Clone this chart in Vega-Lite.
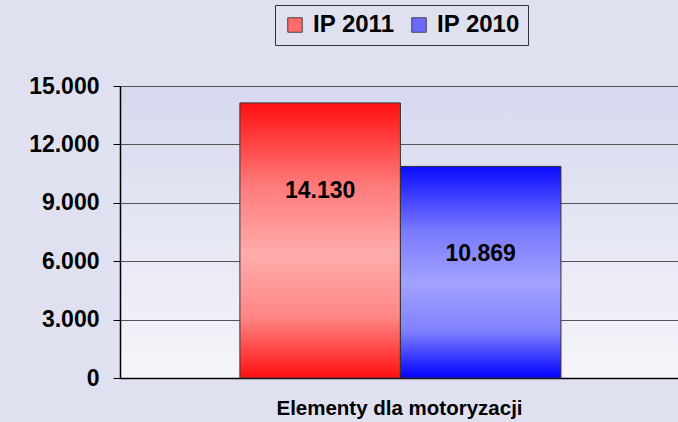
{
  "$schema": "https://vega.github.io/schema/vega-lite/v6.json",
  "width": 558,
  "height": 292,
  "autosize": "none",
  "padding": {"left": 120, "top": 86, "right": 0, "bottom": 44},
  "background": "#dfe1f1",
  "config": {
    "locale": {"number": {"decimal": ",", "thousands": ".", "grouping": [3], "currency": ["", " zł"]}},
    "font": "Liberation Sans",
    "view": {"stroke": null}
  },
  "view": {
    "stroke": null,
    "fill": {"gradient": "linear", "x1": 0, "y1": 0, "x2": 0, "y2": 1,
      "stops": [{"offset": 0, "color": "#d6d9ee"}, {"offset": 1, "color": "#f5f5fa"}]}
  },
  "data": {"values": [
    {"cat": "Elementy dla motoryzacji", "series": "IP 2011", "value": 14130},
    {"cat": "Elementy dla motoryzacji", "series": "IP 2010", "value": 10869}
  ]},
  "encoding": {
    "x": {"field": "cat", "type": "nominal",
      "scale": {"paddingInner": 0, "paddingOuter": 0.369, "align": 0.506},
      "axis": {"labels": false, "ticks": false, "title": "Elementy dla motoryzacji",
        "titleFontSize": 20.5, "titleFontWeight": "bold", "titleColor": "black", "titlePadding": 20,
        "titleFont": "Liberation Sans", "domainColor": "black", "domainWidth": 1.5}},
    "xOffset": {"field": "series", "type": "nominal", "sort": ["IP 2011", "IP 2010"], "scale": {"paddingInner": 0}},
    "y": {"field": "value", "type": "quantitative",
      "scale": {"domain": [0, 15000]},
      "axis": {"values": [0, 3000, 6000, 9000, 12000, 15000], "format": ",d", "title": null,
        "labelFontSize": 23, "labelFontWeight": "bold", "labelColor": "black", "labelFont": "Liberation Sans",
        "tickSize": 7, "tickColor": "black", "labelPadding": 14,
        "domainColor": "black", "domainWidth": 1.5,
        "gridColor": "#555", "gridWidth": 1.2}}
  },
  "layer": [
    {
      "mark": {"type": "bar", "stroke": "#333", "strokeWidth": 1},
      "encoding": {
        "color": {
          "condition": {"test": "datum.series === 'IP 2011'", "value":
            {"gradient": "linear", "x1": 0, "y1": 0, "x2": 0, "y2": 1,
              "stops": [{"offset": 0, "color": "#ff1010"}, {"offset": 0.3, "color": "#ff7a7a"}, {"offset": 0.55, "color": "#ffacac"}, {"offset": 0.78, "color": "#ff8585"}, {"offset": 1, "color": "#ff1010"}]}},
          "value": {"gradient": "linear", "x1": 0, "y1": 0, "x2": 0, "y2": 1,
              "stops": [{"offset": 0, "color": "#0a0aff"}, {"offset": 0.3, "color": "#7878ff"}, {"offset": 0.55, "color": "#a2a2ff"}, {"offset": 0.78, "color": "#8080ff"}, {"offset": 1, "color": "#0000ff"}]}
        }
      }
    },
    {
      "mark": {"type": "point", "filled": true, "opacity": 0, "shape": "square"},
      "encoding": {
        "color": {"field": "series", "type": "nominal", "sort": ["IP 2011", "IP 2010"],
          "scale": {"domain": ["IP 2011", "IP 2010"], "range": ["#ff6a6a", "#6a6aff"]},
          "legend": {"orient": "none", "legendX": 155, "legendY": -81, "direction": "horizontal", "title": null,
            "symbolType": "square", "symbolSize": 210, "symbolStrokeColor": "#444", "symbolStrokeWidth": 1,
            "labelFontSize": 24, "labelFontWeight": "bold", "labelColor": "black", "labelFont": "Liberation Sans",
            "labelOffset": 6, "columnPadding": 12, "padding": 8, "strokeColor": "#333", "symbolOpacity": 1}
        }
      }
    },
    {
      "mark": {"type": "text", "dy": 88, "baseline": "middle", "fontSize": 23, "fontWeight": "bold", "color": "black", "font": "Liberation Sans"},
      "encoding": {
        "text": {"field": "value", "type": "quantitative", "format": ",d"}
      }
    }
  ]
}
